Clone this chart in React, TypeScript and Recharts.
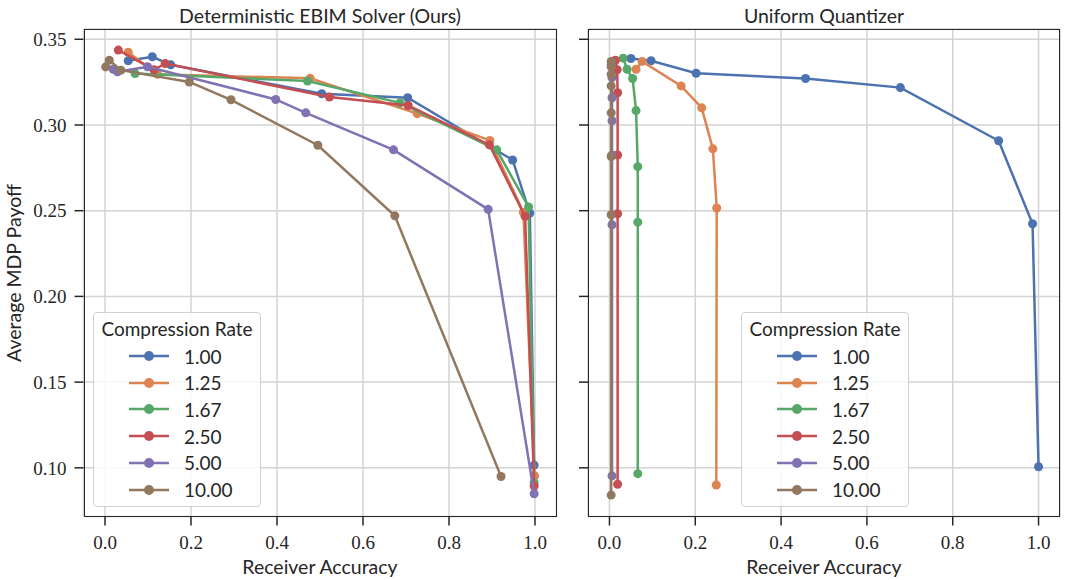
import React from 'react';
import { ScatterChart, Scatter, XAxis, YAxis, ZAxis, CartesianGrid } from 'recharts';

type Pt = [number, number];

// Compression rates (legend labels) and seaborn "deep" colours
const rates = ['1.00', '1.25', '1.67', '2.50', '5.00', '10.00'];
const colors = ['#4C72B0', '#DD8452', '#55A868', '#C44E52', '#8172B3', '#937860'];

// Deterministic EBIM Solver (Ours): [receiver accuracy, average payoff]
const ebim100: Pt[] = [[0.054, 0.3375], [0.11, 0.3398], [0.153, 0.3351], [0.504, 0.3182], [0.704, 0.3159], [0.948, 0.2796], [0.988, 0.2486], [0.998, 0.1016]];
const ebim125: Pt[] = [[0.054, 0.3424], [0.122, 0.3296], [0.477, 0.3272], [0.726, 0.3066], [0.895, 0.291], [0.973, 0.249], [0.999, 0.0953]];
const ebim167: Pt[] = [[0.07, 0.33], [0.471, 0.3257], [0.686, 0.3129], [0.911, 0.2855], [0.985, 0.2522], [0.998, 0.0913]];
const ebim250: Pt[] = [[0.031, 0.3437], [0.114, 0.3322], [0.14, 0.3359], [0.522, 0.3163], [0.705, 0.3114], [0.894, 0.2884], [0.977, 0.2467], [0.998, 0.0894]];
const ebim500: Pt[] = [[0.019, 0.3325], [0.029, 0.331], [0.099, 0.334], [0.397, 0.3149], [0.467, 0.3071], [0.671, 0.2855], [0.891, 0.2508], [0.998, 0.0849]];
const ebim1000: Pt[] = [[0.0016, 0.3339], [0.01, 0.3378], [0.037, 0.332], [0.196, 0.3251], [0.293, 0.3147], [0.495, 0.2882], [0.674, 0.247], [0.921, 0.0949]];

// Uniform Quantizer
const uq100: Pt[] = [[0.05, 0.3388], [0.097, 0.3375], [0.202, 0.3302], [0.457, 0.3271], [0.678, 0.3218], [0.907, 0.2908], [0.986, 0.2424], [1.0, 0.1006]];
const uq125: Pt[] = [[0.062, 0.3325], [0.076, 0.3371], [0.167, 0.3228], [0.215, 0.31], [0.241, 0.2861], [0.25, 0.2516], [0.249, 0.09]];
const uq167: Pt[] = [[0.032, 0.339], [0.041, 0.3325], [0.054, 0.3271], [0.062, 0.3084], [0.066, 0.2757], [0.066, 0.2433], [0.066, 0.0966]];
const uq250: Pt[] = [[0.014, 0.3378], [0.018, 0.3322], [0.019, 0.3188], [0.019, 0.2825], [0.019, 0.2482], [0.019, 0.0904]];
const uq500: Pt[] = [[0.004, 0.335], [0.006, 0.3276], [0.006, 0.3159], [0.006, 0.3025], [0.006, 0.2825], [0.006, 0.2418], [0.006, 0.0953]];
const uq1000: Pt[] = [[0.004, 0.3371], [0.004, 0.334], [0.004, 0.3296], [0.004, 0.3228], [0.004, 0.3071], [0.004, 0.2816], [0.004, 0.2476], [0.004, 0.0841]];

const xTicks = [0, 0.2, 0.4, 0.6, 0.8, 1.0];
const yTicks = [0.1, 0.15, 0.2, 0.25, 0.3, 0.35];

const ebimSeries = [ebim100, ebim125, ebim167, ebim250, ebim500, ebim1000];
const uqSeries = [uq100, uq125, uq167, uq250, uq500, uq1000];

const SANS = 'Lato, "Open Sans", sans-serif';
const SERIF = '"Liberation Serif", "DejaVu Serif", serif';
const INK = '#262626';

const toRows = (pts: Pt[]) => pts.map(([x, y]) => ({ x, y }));

interface PanelProps {
  series: Pt[][];
  left: number;
  width: number;
  yAxisWidth: number;
  rightGap: number;
  showYLabels: boolean;
}

const Panel = ({ series, left, width, yAxisWidth, rightGap, showYLabels }: PanelProps) => (
  <div style={{ position: 'absolute', left, top: 0 }}>
    <ScatterChart width={width} height={580} margin={{ top: 29, right: rightGap, bottom: 0, left: 0 }}>
      <CartesianGrid stroke="#d3d3d3" strokeWidth={1.5} />
      <XAxis
        type="number"
        dataKey="x"
        domain={[-0.05, 1.05]}
        ticks={xTicks}
        height={63.5}
        allowDataOverflow
        axisLine={false}
        tickSize={9}
        tickMargin={10}
        tickLine={{ stroke: INK, strokeWidth: 1.5 }}
        tick={{ fill: INK, fontSize: 19, fontFamily: SERIF }}
        tickFormatter={(v: number) => v.toFixed(1)}
      />
      <YAxis
        type="number"
        dataKey="y"
        domain={[0.0716, 0.356]}
        ticks={yTicks}
        width={yAxisWidth}
        allowDataOverflow
        axisLine={false}
        tickSize={9}
        tickMargin={8}
        tickLine={{ stroke: INK, strokeWidth: 1.5 }}
        tick={{ fill: INK, fontSize: 19, fontFamily: SERIF }}
        tickFormatter={(v: number) => (showYLabels ? v.toFixed(2) : '')}
      />
      <ZAxis range={[80, 80]} />
      {series.map((pts, i) => (
        <Scatter
          key={rates[i]}
          name={rates[i]}
          data={toRows(pts)}
          fill={colors[i]}
          line={{ stroke: colors[i], strokeWidth: 2.5 }}
          lineType="joint"
          isAnimationActive={false}
        />
      ))}
    </ScatterChart>
  </div>
);

const LegendBox = ({ left, top }: { left: number; top: number }) => (
  <div
    style={{
      position: 'absolute',
      left,
      top,
      width: 168,
      height: 195,
      border: '1.2px solid #d0d0d0',
      borderRadius: 4,
      background: 'rgba(255,255,255,0.85)',
      boxSizing: 'border-box',
      fontFamily: SANS,
      color: INK,
    }}
  >
    <div style={{ position: 'absolute', top: 4, width: '100%', textAlign: 'center', fontSize: 19 }}>
      Compression Rate
    </div>
    {rates.map((r, i) => (
      <div key={r} style={{ position: 'absolute', left: 0, top: 30 + i * 26.7, height: 26, display: 'flex', alignItems: 'center' }}>
        <svg width={90} height={26}>
          <line x1={35} x2={75} y1={13} y2={13} stroke={colors[i]} strokeWidth={2.5} />
          <circle cx={55} cy={13} r={5} fill={colors[i]} />
        </svg>
        <span style={{ fontSize: 19 }}>{r}</span>
      </div>
    ))}
  </div>
);

const Frame = ({ left, width }: { left: number; width: number }) => (
  <div
    style={{
      position: 'absolute',
      left,
      top: 29,
      width,
      height: 487.5,
      border: `1.6px solid ${INK}`,
      boxSizing: 'border-box',
      pointerEvents: 'none',
    }}
  />
);

const textStyle: React.CSSProperties = {
  position: 'absolute',
  fontFamily: SANS,
  fontSize: 19.5,
  color: INK,
  whiteSpace: 'nowrap',
  transform: 'translate(-50%, -50%)',
};

export default function App() {
  return (
    <div style={{ position: 'absolute', left: 0, top: 0, width: 1067, height: 580, background: '#fff' }}>
      <Panel series={ebimSeries} left={0} width={560} yAxisWidth={83.5} rightGap={3.5} showYLabels />
      <Panel series={uqSeries} left={560} width={507} yAxisWidth={28} rightGap={7} showYLabels={false} />
      <Frame left={83.5} width={473} />
      <Frame left={588} width={472} />
      <LegendBox left={93} top={312} />
      <LegendBox left={741} top={312} />
      <div style={{ ...textStyle, left: 320, top: 15 }}>Deterministic EBIM Solver (Ours)</div>
      <div style={{ ...textStyle, left: 824, top: 15 }}>Uniform Quantizer</div>
      <div style={{ ...textStyle, left: 320, top: 566 }}>Receiver Accuracy</div>
      <div style={{ ...textStyle, left: 824, top: 566 }}>Receiver Accuracy</div>
      <div style={{ ...textStyle, left: 13, top: 273, transform: 'translate(-50%, -50%) rotate(-90deg)' }}>
        Average MDP Payoff
      </div>
    </div>
  );
}
